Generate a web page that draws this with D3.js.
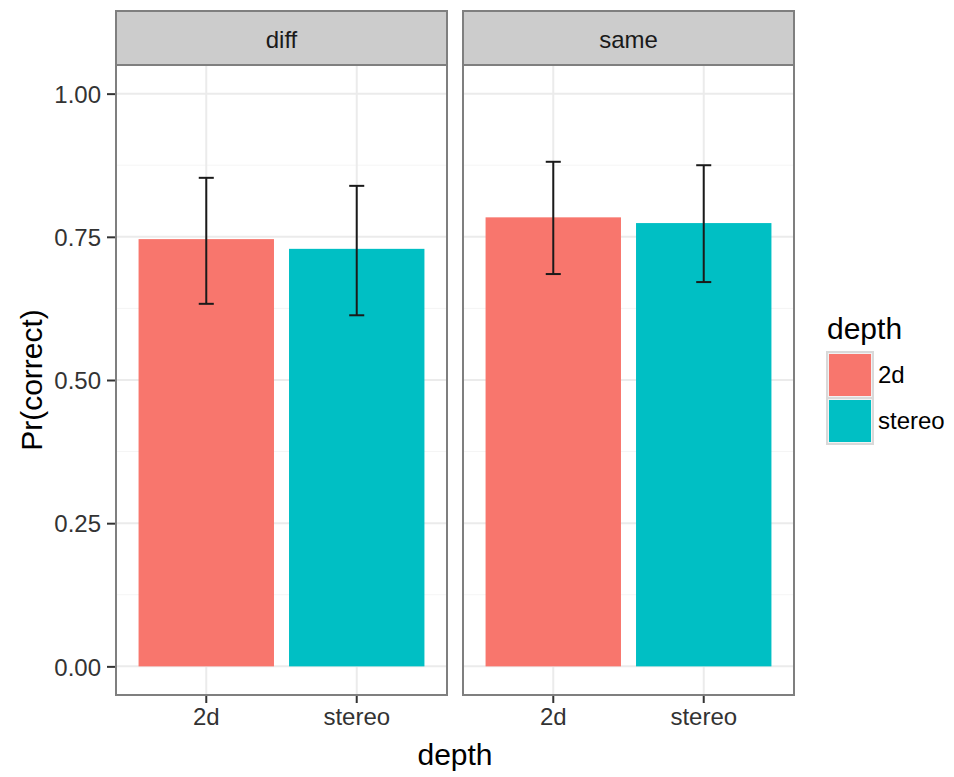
<!DOCTYPE html>
<meta charset="utf-8">
<style>
body { margin: 0; background: #fff; }
text { font-family: "Liberation Sans", Arial, sans-serif; }
.tick text { font-size: 24px; fill: #333; }
.tick line { stroke: #333; stroke-width: 2px; }
.domain { display: none; }
</style>
<svg width="954" height="777"></svg>
<script src="https://d3js.org/d3.v7.min.js"></script>
<script>

var facets = ["diff", "same"];
var depths = ["2d", "stereo"];
var colours = ["#F8766D", "#00BFC4"];

// Pr(correct) per facet, in depth order
var diffMean = [0.746, 0.729];
var diffLower = [0.633, 0.613];
var diffUpper = [0.853, 0.839];
var sameMean = [0.784, 0.774];
var sameLower = [0.685, 0.671];
var sameUpper = [0.881, 0.875];

var yTicks = [0, 0.25, 0.5, 0.75, 1];
var yMinor = [0.125, 0.375, 0.625, 0.875];

var rows = [];
facets.forEach(function(f, i) {
  var m = i == 0 ? diffMean : sameMean,
      lo = i == 0 ? diffLower : sameLower,
      hi = i == 0 ? diffUpper : sameUpper;
  depths.forEach(function(d, j) {
    rows.push({facet: f, depth: d, mean: m[j], lower: lo[j], upper: hi[j]});
  });
});

var svg = d3.select("svg");

var panelTop = 65, panelBottom = 695, stripTop = 11;
// two facet panels with a 16px gap between them
var panelX = d3.scaleBand().domain(facets).range([116, 794]).paddingInner(32 / 694);
var panelW = panelX.bandwidth();

var y = d3.scaleLinear().domain([-0.05, 1.05]).range([panelBottom, panelTop]);
var colour = d3.scaleOrdinal().domain(depths).range(colours);

facets.forEach(function(f, i) {
  var x0 = panelX(f);
  var g = svg.append("g").attr("transform", "translate(" + x0 + ",0)");

  // discrete x: 2 levels with 0.6 expansion each side
  var x = d3.scaleLinear().domain([0.4, 2.6]).range([0, panelW]);

  g.append("rect")
      .attr("x", 0).attr("y", panelTop)
      .attr("width", panelW).attr("height", panelBottom - panelTop)
      .attr("fill", "#fff");

  g.selectAll(".minor").data(yMinor).enter().append("line")
      .attr("x1", 0).attr("x2", panelW)
      .attr("y1", y).attr("y2", y)
      .attr("stroke", "#f5f5f5").attr("stroke-width", 1);

  g.selectAll(".major").data(yTicks).enter().append("line")
      .attr("x1", 0).attr("x2", panelW)
      .attr("y1", y).attr("y2", y)
      .attr("stroke", "#ebebeb").attr("stroke-width", 2);

  g.selectAll(".vgrid").data([1, 2]).enter().append("line")
      .attr("x1", x).attr("x2", x)
      .attr("y1", panelTop).attr("y2", panelBottom)
      .attr("stroke", "#ebebeb").attr("stroke-width", 2);

  var data = rows.filter(function(r) { return r.facet == f; });

  g.selectAll(".bar").data(data).enter().append("rect")
      .attr("x", function(d, j) { return x(j + 1 - 0.45); })
      .attr("width", x(1.45) - x(0.55))
      .attr("y", function(d) { return y(d.mean); })
      .attr("height", function(d) { return y(0) - y(d.mean); })
      .attr("fill", function(d) { return colour(d.depth); });

  var eb = g.selectAll(".err").data(data).enter().append("g")
      .attr("stroke", "#1a1a1a").attr("stroke-width", 2);
  eb.append("line")
      .attr("x1", function(d, j) { return x(j + 1); })
      .attr("x2", function(d, j) { return x(j + 1); })
      .attr("y1", function(d) { return y(d.lower); })
      .attr("y2", function(d) { return y(d.upper); });
  eb.append("line")
      .attr("x1", function(d, j) { return x(j + 1 - 0.05); })
      .attr("x2", function(d, j) { return x(j + 1 + 0.05); })
      .attr("y1", function(d) { return y(d.upper); })
      .attr("y2", function(d) { return y(d.upper); });
  eb.append("line")
      .attr("x1", function(d, j) { return x(j + 1 - 0.05); })
      .attr("x2", function(d, j) { return x(j + 1 + 0.05); })
      .attr("y1", function(d) { return y(d.lower); })
      .attr("y2", function(d) { return y(d.lower); });

  // panel border
  g.append("rect")
      .attr("x", 0).attr("y", panelTop)
      .attr("width", panelW).attr("height", panelBottom - panelTop)
      .attr("fill", "none").attr("stroke", "#7f7f7f").attr("stroke-width", 2);

  // strip
  g.append("rect")
      .attr("x", 0).attr("y", stripTop)
      .attr("width", panelW).attr("height", panelTop - stripTop)
      .attr("fill", "#cccccc").attr("stroke", "#7f7f7f").attr("stroke-width", 2);
  g.append("text")
      .attr("x", panelW / 2).attr("y", 48)
      .attr("text-anchor", "middle")
      .style("font-size", "24px").attr("fill", "#1a1a1a")
      .text(f);

  // x axis
  var xb = d3.scaleBand().domain(depths).range([x(0.5), x(2.5)]);
  g.append("g")
      .attr("transform", "translate(0," + panelBottom + ")")
      .call(d3.axisBottom(xb).tickSize(7).tickPadding(6))
      .selectAll(".tick line").attr("transform", "translate(0,1)");

  if (i == 0) {
    g.append("g")
        .attr("transform", "translate(-1,0)")
        .call(d3.axisLeft(y).tickValues(yTicks).tickFormat(d3.format(".2f")).tickSize(8).tickPadding(6))
        .selectAll(".tick text").attr("dy", "0.36em");
  }
});

// axis titles
svg.append("text")
    .attr("x", 455).attr("y", 765)
    .attr("text-anchor", "middle")
    .style("font-size", "30px").attr("fill", "#000")
    .text("depth");

svg.append("text")
    .attr("transform", "translate(42," + (panelTop + panelBottom) / 2 + ") rotate(-90)")
    .attr("text-anchor", "middle")
    .style("font-size", "30px").attr("fill", "#000")
    .text("Pr(correct)");

// legend
var leg = svg.append("g").attr("transform", "translate(827,0)");
leg.append("text")
    .attr("x", 0).attr("y", 339)
    .style("font-size", "30px").attr("fill", "#000")
    .text("depth");

var keySize = 46;
var keys = leg.selectAll(".key").data(depths).enter().append("g")
    .attr("transform", function(d, i) { return "translate(0," + (352 + i * keySize) + ")"; });
keys.append("rect")
    .attr("width", keySize).attr("height", keySize)
    .attr("fill", "#f2f2f2").attr("stroke", "#d9d9d9").attr("stroke-width", 2);
keys.append("rect")
    .attr("x", 2).attr("y", 2)
    .attr("width", keySize - 4).attr("height", keySize - 4)
    .attr("fill", function(d) { return colour(d); });
keys.append("text")
    .attr("x", keySize + 5).attr("y", keySize / 2 + 8)
    .style("font-size", "24px").attr("fill", "#000")
    .text(function(d) { return d; });

</script>
